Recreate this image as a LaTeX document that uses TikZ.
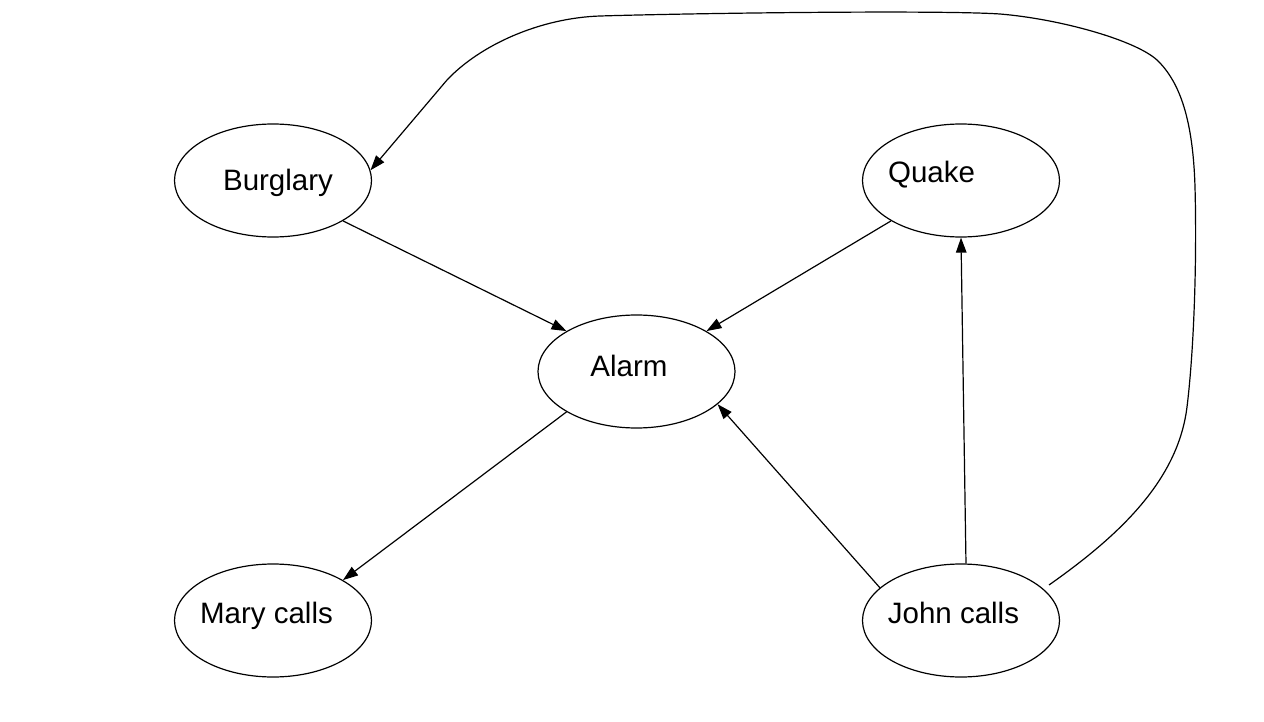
\documentclass[tikz,border=0pt]{standalone}
\usepackage{fontspec}
\setmainfont{Liberation Sans}
\usetikzlibrary{shapes.geometric,arrows.meta}
\begin{document}
\begin{tikzpicture}[x=1pt,y=-1pt,line width=1.2pt,
  state/.style={ellipse,draw,minimum width=197pt,minimum height=113pt,inner sep=0pt},
  lbl/.style={anchor=base,inner sep=0pt,font=\fontsize{29.5}{35}\selectfont},
  arr/.style={-{Triangle[length=15pt,width=10.5pt]}}]
\useasboundingbox (0,0) rectangle (1264,722);
% ellipses
\node[state] (burglary) at (273,180.5) {};
\node[state] (quake) at (961,180.5) {};
\node[state] (alarm) at (636.5,371.5) {};
\node[state] (mary) at (273,620.5) {};
\node[state] (john) at (961,620.5) {};
% labels
\node[lbl] (tburglary) at (278,191) {Burglary};
\node[lbl] (tquake) at (931.5,183) {Quake};
\node[lbl] (talarm) at (629,376) {Alarm};
\node[lbl] (tmary) at (266.5,623) {Mary calls};
\node[lbl] (tjohn) at (953.5,623) {John calls};
% connectors
\draw[arr] (burglary.-30) -- (alarm.150);
\draw[arr] (quake.210) -- (alarm.30);
\draw[arr] (alarm.210) -- (mary.30);
\draw[arr] (john.158) -- (alarm.-22);
\draw[arr] (john.85) -- (quake.south);
% long curve from John calls to Burglary
\coordinate (jstart) at (1049,585);
\coordinate (kink) at (447,80);
\draw (jstart) .. controls (1120,535) and (1178,480) .. (1187,407)
  .. controls (1194,350) and (1197,260) .. (1195,187)
  .. controls (1193,120) and (1180,82) .. (1157,60)
  .. controls (1135,40) and (1060,19) .. (1000,14)
  .. controls (940,10) and (700,13) .. (600,16)
  .. controls (540,18) and (480,45) .. (kink);
\draw[arr] (kink) -- (burglary.6);
\end{tikzpicture}
\end{document}
